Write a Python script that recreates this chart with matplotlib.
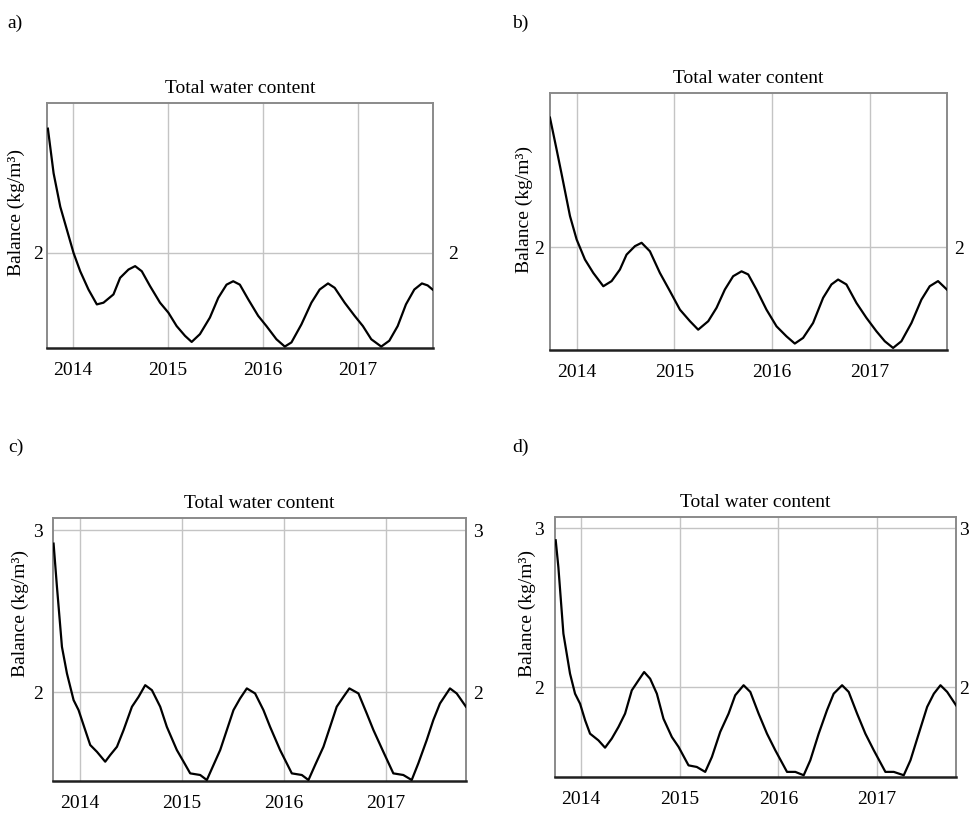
import matplotlib
matplotlib.use('Agg')
import matplotlib.pyplot as plt

plt.rcParams['font.family'] = ['Liberation Serif', 'DejaVu Serif']

# a) time (decimal year) / total water content (kg/m3)
t_a = [2013.737, 2013.797, 2013.867, 2013.937, 2014.007, 2014.077, 2014.164, 2014.252,
       2014.322, 2014.427, 2014.497, 2014.585, 2014.655, 2014.725, 2014.812, 2014.917,
       2015.005, 2015.092, 2015.18, 2015.25, 2015.337, 2015.442, 2015.53, 2015.617,
       2015.687, 2015.757, 2015.845, 2015.95, 2016.037, 2016.142, 2016.23, 2016.30,
       2016.405, 2016.51, 2016.597, 2016.685, 2016.755, 2016.86, 2016.965, 2017.052,
       2017.14, 2017.245, 2017.33, 2017.418, 2017.505, 2017.593, 2017.673, 2017.733, 2017.785]
v_a = [2.51, 2.327, 2.19, 2.095, 2.0, 1.925, 1.85, 1.789,
       1.796, 1.83, 1.898, 1.932, 1.946, 1.925, 1.864, 1.796,
       1.755, 1.70, 1.66, 1.635, 1.667, 1.735, 1.816, 1.87,
       1.884, 1.87, 1.81, 1.742, 1.70, 1.646, 1.616, 1.633,
       1.707, 1.796, 1.85, 1.875, 1.857, 1.796, 1.742, 1.70,
       1.646, 1.616, 1.64, 1.70, 1.789, 1.85, 1.875, 1.867, 1.85]

# b)
t_b = [2013.727, 2013.795, 2013.847, 2013.932, 2014.0, 2014.085, 2014.17, 2014.273,
       2014.358, 2014.443, 2014.511, 2014.597, 2014.665, 2014.75, 2014.852, 2014.955,
       2015.057, 2015.16, 2015.244, 2015.347, 2015.432, 2015.517, 2015.602, 2015.688,
       2015.756, 2015.841, 2015.943, 2016.046, 2016.148, 2016.233, 2016.318, 2016.42,
       2016.523, 2016.608, 2016.676, 2016.761, 2016.864, 2016.966, 2017.068, 2017.154,
       2017.239, 2017.324, 2017.427, 2017.529, 2017.614, 2017.699, 2017.79]
v_b = [2.504, 2.38, 2.283, 2.121, 2.03, 1.952, 1.90, 1.848,
       1.868, 1.913, 1.971, 2.004, 2.017, 1.984, 1.90, 1.829,
       1.757, 1.712, 1.679, 1.712, 1.764, 1.835, 1.887, 1.906,
       1.894, 1.835, 1.757, 1.692, 1.653, 1.625, 1.647, 1.705,
       1.803, 1.855, 1.874, 1.855, 1.783, 1.725, 1.673, 1.634,
       1.608, 1.634, 1.705, 1.796, 1.848, 1.868, 1.835]

# c)
t_c = [2013.745, 2013.778, 2013.827, 2013.876, 2013.941, 2013.99, 2014.055, 2014.104,
       2014.17, 2014.251, 2014.3, 2014.366, 2014.431, 2014.513, 2014.578, 2014.643,
       2014.709, 2014.79, 2014.855, 2014.953, 2015.019, 2015.084, 2015.182, 2015.247,
       2015.312, 2015.378, 2015.443, 2015.508, 2015.573, 2015.639, 2015.72, 2015.802,
       2015.867, 2015.965, 2016.08, 2016.178, 2016.243, 2016.308, 2016.39, 2016.455,
       2016.52, 2016.586, 2016.644, 2016.733, 2016.814, 2016.88, 2016.977, 2017.075,
       2017.173, 2017.255, 2017.32, 2017.402, 2017.467, 2017.532, 2017.63, 2017.696, 2017.787]
v_c = [2.918, 2.651, 2.281, 2.117, 1.953, 1.891, 1.768, 1.676,
       1.634, 1.573, 1.614, 1.665, 1.768, 1.912, 1.973, 2.045,
       2.014, 1.912, 1.788, 1.645, 1.573, 1.501, 1.491, 1.46,
       1.552, 1.645, 1.768, 1.891, 1.963, 2.025, 1.994, 1.891,
       1.788, 1.645, 1.501, 1.491, 1.46, 1.552, 1.665, 1.788,
       1.912, 1.973, 2.025, 1.994, 1.871, 1.768, 1.634, 1.501,
       1.491, 1.46, 1.563, 1.706, 1.83, 1.932, 2.025, 1.994, 1.912]

# d)
t_d = [2013.743, 2013.77, 2013.821, 2013.888, 2013.939, 2013.99, 2014.041, 2014.091,
       2014.176, 2014.243, 2014.311, 2014.379, 2014.446, 2014.514, 2014.582, 2014.639,
       2014.7, 2014.768, 2014.835, 2014.92, 2014.988, 2015.089, 2015.173, 2015.258,
       2015.326, 2015.41, 2015.495, 2015.562, 2015.647, 2015.715, 2015.799, 2015.884,
       2015.968, 2016.087, 2016.171, 2016.256, 2016.323, 2016.408, 2016.492, 2016.56,
       2016.645, 2016.712, 2016.797, 2016.881, 2016.966, 2017.084, 2017.169, 2017.27,
       2017.338, 2017.422, 2017.507, 2017.575, 2017.642, 2017.71, 2017.80]
v_d = [2.923, 2.755, 2.337, 2.086, 1.96, 1.897, 1.793, 1.709,
       1.667, 1.621, 1.678, 1.751, 1.835, 1.981, 2.044, 2.096,
       2.054, 1.96, 1.803, 1.688, 1.626, 1.51, 1.5, 1.469,
       1.563, 1.72, 1.835, 1.95, 2.013, 1.971, 1.835, 1.709,
       1.605, 1.469, 1.469, 1.448, 1.542, 1.709, 1.856, 1.96,
       2.013, 1.971, 1.835, 1.709, 1.605, 1.469, 1.469, 1.448,
       1.542, 1.709, 1.877, 1.96, 2.013, 1.971, 1.887]

years = [2014, 2015, 2016, 2017]
panel_labels = ['a)', 'b)', 'c)', 'd)']

W, H = 972, 816
fig = plt.figure(figsize=(W / 100, H / 100), dpi=100)

# axes boxes in figure fraction, one per panel
boxes = [[0.0484, 0.5735, 0.3971, 0.3002],
         [0.5658, 0.5711, 0.4084, 0.3150],
         [0.0545, 0.0429, 0.4249, 0.3223],
         [0.5710, 0.0478, 0.4126, 0.3186]]
xlims = [(2013.728, 2017.79), (2013.727, 2017.79), (2013.739, 2017.787), (2013.736, 2017.80)]
ylims = [(1.61, 2.615), (1.60, 2.60), (1.454, 3.076), (1.437, 3.069)]
yticks = [[2], [2], [2, 3], [2, 3]]
series = [(t_a, v_a), (t_b, v_b), (t_c, v_c), (t_d, v_d)]
label_pos = [(0.008, 0.982), (0.527, 0.982), (0.008, 0.462), (0.527, 0.462)]
ylab_x = [15, 523, 19, 526]      # centre of the rotated y label, px
ylab_y = [0.555, 0.545, 0.637, 0.627]
left_pad = [3, 4, 7, 8]
right_pad = [11, 5, 5, 2]

for i in range(4):
    ax = fig.add_axes(boxes[i])
    t, v = series[i]
    ax.plot(t, v, color='black', lw=1.6, zorder=3)
    ax.set_xlim(*xlims[i])
    ax.set_ylim(*ylims[i])
    ax.set_xticks(years)
    ax.set_xticklabels([str(y) for y in years])
    ax.set_yticks(yticks[i])
    ax.grid(True, color='#c4c4c4', lw=1.0)
    ax.tick_params(length=0, labelsize=14)
    ax.tick_params(axis='x', pad=10)
    ax.tick_params(axis='y', pad=left_pad[i])
    for side in ['left', 'right', 'top']:
        ax.spines[side].set_color('#8a8a8a')
        ax.spines[side].set_linewidth(1.4)
    ax.spines['bottom'].set_color('#202020')
    ax.spines['bottom'].set_linewidth(1.8)
    ax.set_title('Total water content', fontsize=14, pad=7)
    ax.set_ylabel('Balance (kg/m³)', fontsize=14)
    ax.yaxis.set_label_coords((ylab_x[i] + 10 - boxes[i][0] * W) / (boxes[i][2] * W), ylab_y[i])

    # right-hand tick labels
    ax2 = ax.twinx()
    ax2.set_ylim(*ylims[i])
    ax2.set_yticks(yticks[i])
    ax2.tick_params(length=0, labelsize=14, pad=right_pad[i])
    for side in ax2.spines:
        ax2.spines[side].set_visible(False)

    fig.text(label_pos[i][0], label_pos[i][1], panel_labels[i], fontsize=14, va='top', ha='left')

fig.savefig('out.png', dpi=100)
